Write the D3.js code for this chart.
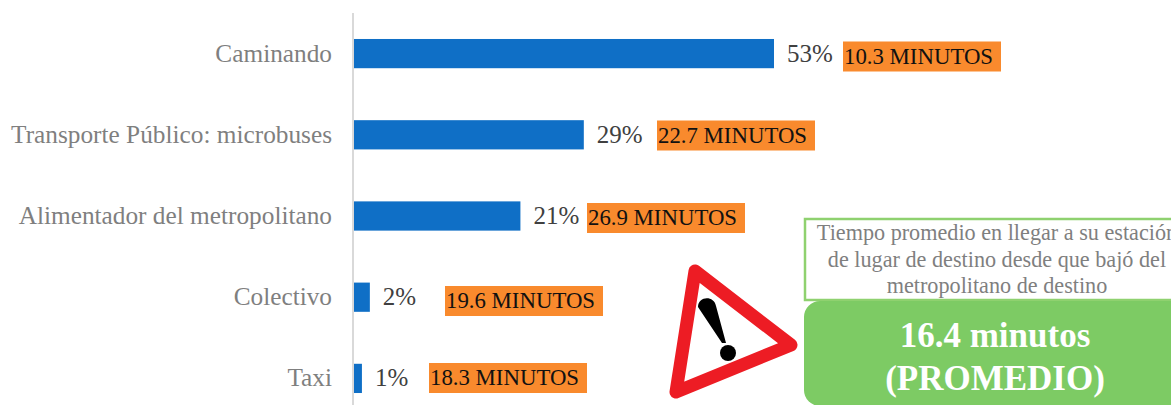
<!DOCTYPE html>
<html><head><meta charset="utf-8">
<script src="https://cdn.jsdelivr.net/npm/d3@7"></script>
<style>html,body{margin:0;padding:0;background:#fff;overflow:hidden}svg{display:block}text{font-family:"Liberation Serif",serif}</style>
</head><body><svg id="c" width="1171" height="405"></svg>
<script>
const categories = ["Caminando","Transporte Público: microbuses","Alimentador del metropolitano","Colectivo","Taxi"];
const shares = [53,29,21,2,1];
const minutes = [10.3,22.7,26.9,19.6,18.3];
const noteLines = ["Tiempo promedio en llegar a su estación","de lugar de destino desde que bajó del","metropolitano de destino"];
const avgLines = ["16.4 minutos","(PROMEDIO)"];
const boxLeft = [843,657,587,445,429];
const boxMid = [56.5,135.5,218,301,378];

const svg = d3.select("#c");
const x = d3.scaleLinear().domain([0,53]).range([354,774]);
const y = d3.scaleBand().domain(categories).range([13,419]).paddingInner(0.64).paddingOuter(0.32);
const mid = c => y(c)+y.bandwidth()/2;

svg.append("line").attr("x1",353).attr("x2",353).attr("y1",13).attr("y2",405).attr("stroke","#d9d9d9").attr("stroke-width",2);
svg.selectAll(".bar").data(categories).join("rect").attr("class","bar")
  .attr("x",x(0)).attr("y",c=>y(c)).attr("width",(c,i)=>x(shares[i])-x(0)).attr("height",y.bandwidth()).attr("fill","#0f6fc6");
svg.selectAll(".cat").data(categories).join("text").attr("class","cat")
  .attr("x",332).attr("y",c=>mid(c)+8).attr("text-anchor","end").attr("font-size",25.3).attr("fill","#7f7f7f").text(c=>c);
svg.selectAll(".pct").data(categories).join("text").attr("class","pct")
  .attr("x",(c,i)=>x(shares[i])+13).attr("y",c=>mid(c)+8).attr("font-size",25).attr("fill","#404040").text((c,i)=>shares[i]+"%");
svg.selectAll(".box").data(minutes).join("rect").attr("class","box")
  .attr("x",(d,i)=>boxLeft[i]).attr("y",(d,i)=>boxMid[i]-15).attr("width",158).attr("height",30).attr("fill","#f98a2d");
svg.selectAll(".min").data(minutes).join("text").attr("class","min")
  .attr("x",(d,i)=>boxLeft[i]+1).attr("y",(d,i)=>boxMid[i]+7).attr("font-size",22.8).attr("fill","#111").text(d=>d.toFixed(1)+" MINUTOS");

// warning sign
svg.append("path").attr("d",d3.line()([[695,271],[791,345],[676,392]])+"Z").attr("fill","#fff").attr("stroke","#ed1c24").attr("stroke-width",13).attr("stroke-linejoin","round");
svg.append("path").attr("d","M698 307C698 296 714 295 716 306L726 343L722 343Z").attr("fill","#000");
svg.append("circle").attr("cx",728).attr("cy",353).attr("r",8).attr("fill","#000");

// note box
svg.append("rect").attr("x",805).attr("y",219).attr("width",372).attr("height",81).attr("fill","#fff").attr("stroke","#8fd16f").attr("stroke-width",2.5);
svg.selectAll(".note").data(noteLines).join("text").attr("class","note")
  .attr("x",997).attr("y",(d,i)=>240+i*26.5).attr("text-anchor","middle").attr("font-size",22.2).attr("fill","#7f7f7f").text(d=>d);
// average box
svg.append("rect").attr("x",804).attr("y",301).attr("width",400).attr("height",105).attr("rx",16).attr("fill","#7dcb64");
svg.selectAll(".avg").data(avgLines).join("text").attr("class","avg")
  .attr("x",995).attr("y",(d,i)=>347+i*43).attr("text-anchor","middle").attr("font-size",35).attr("font-weight","bold").attr("fill","#fff").text(d=>d);
</script></body></html>
